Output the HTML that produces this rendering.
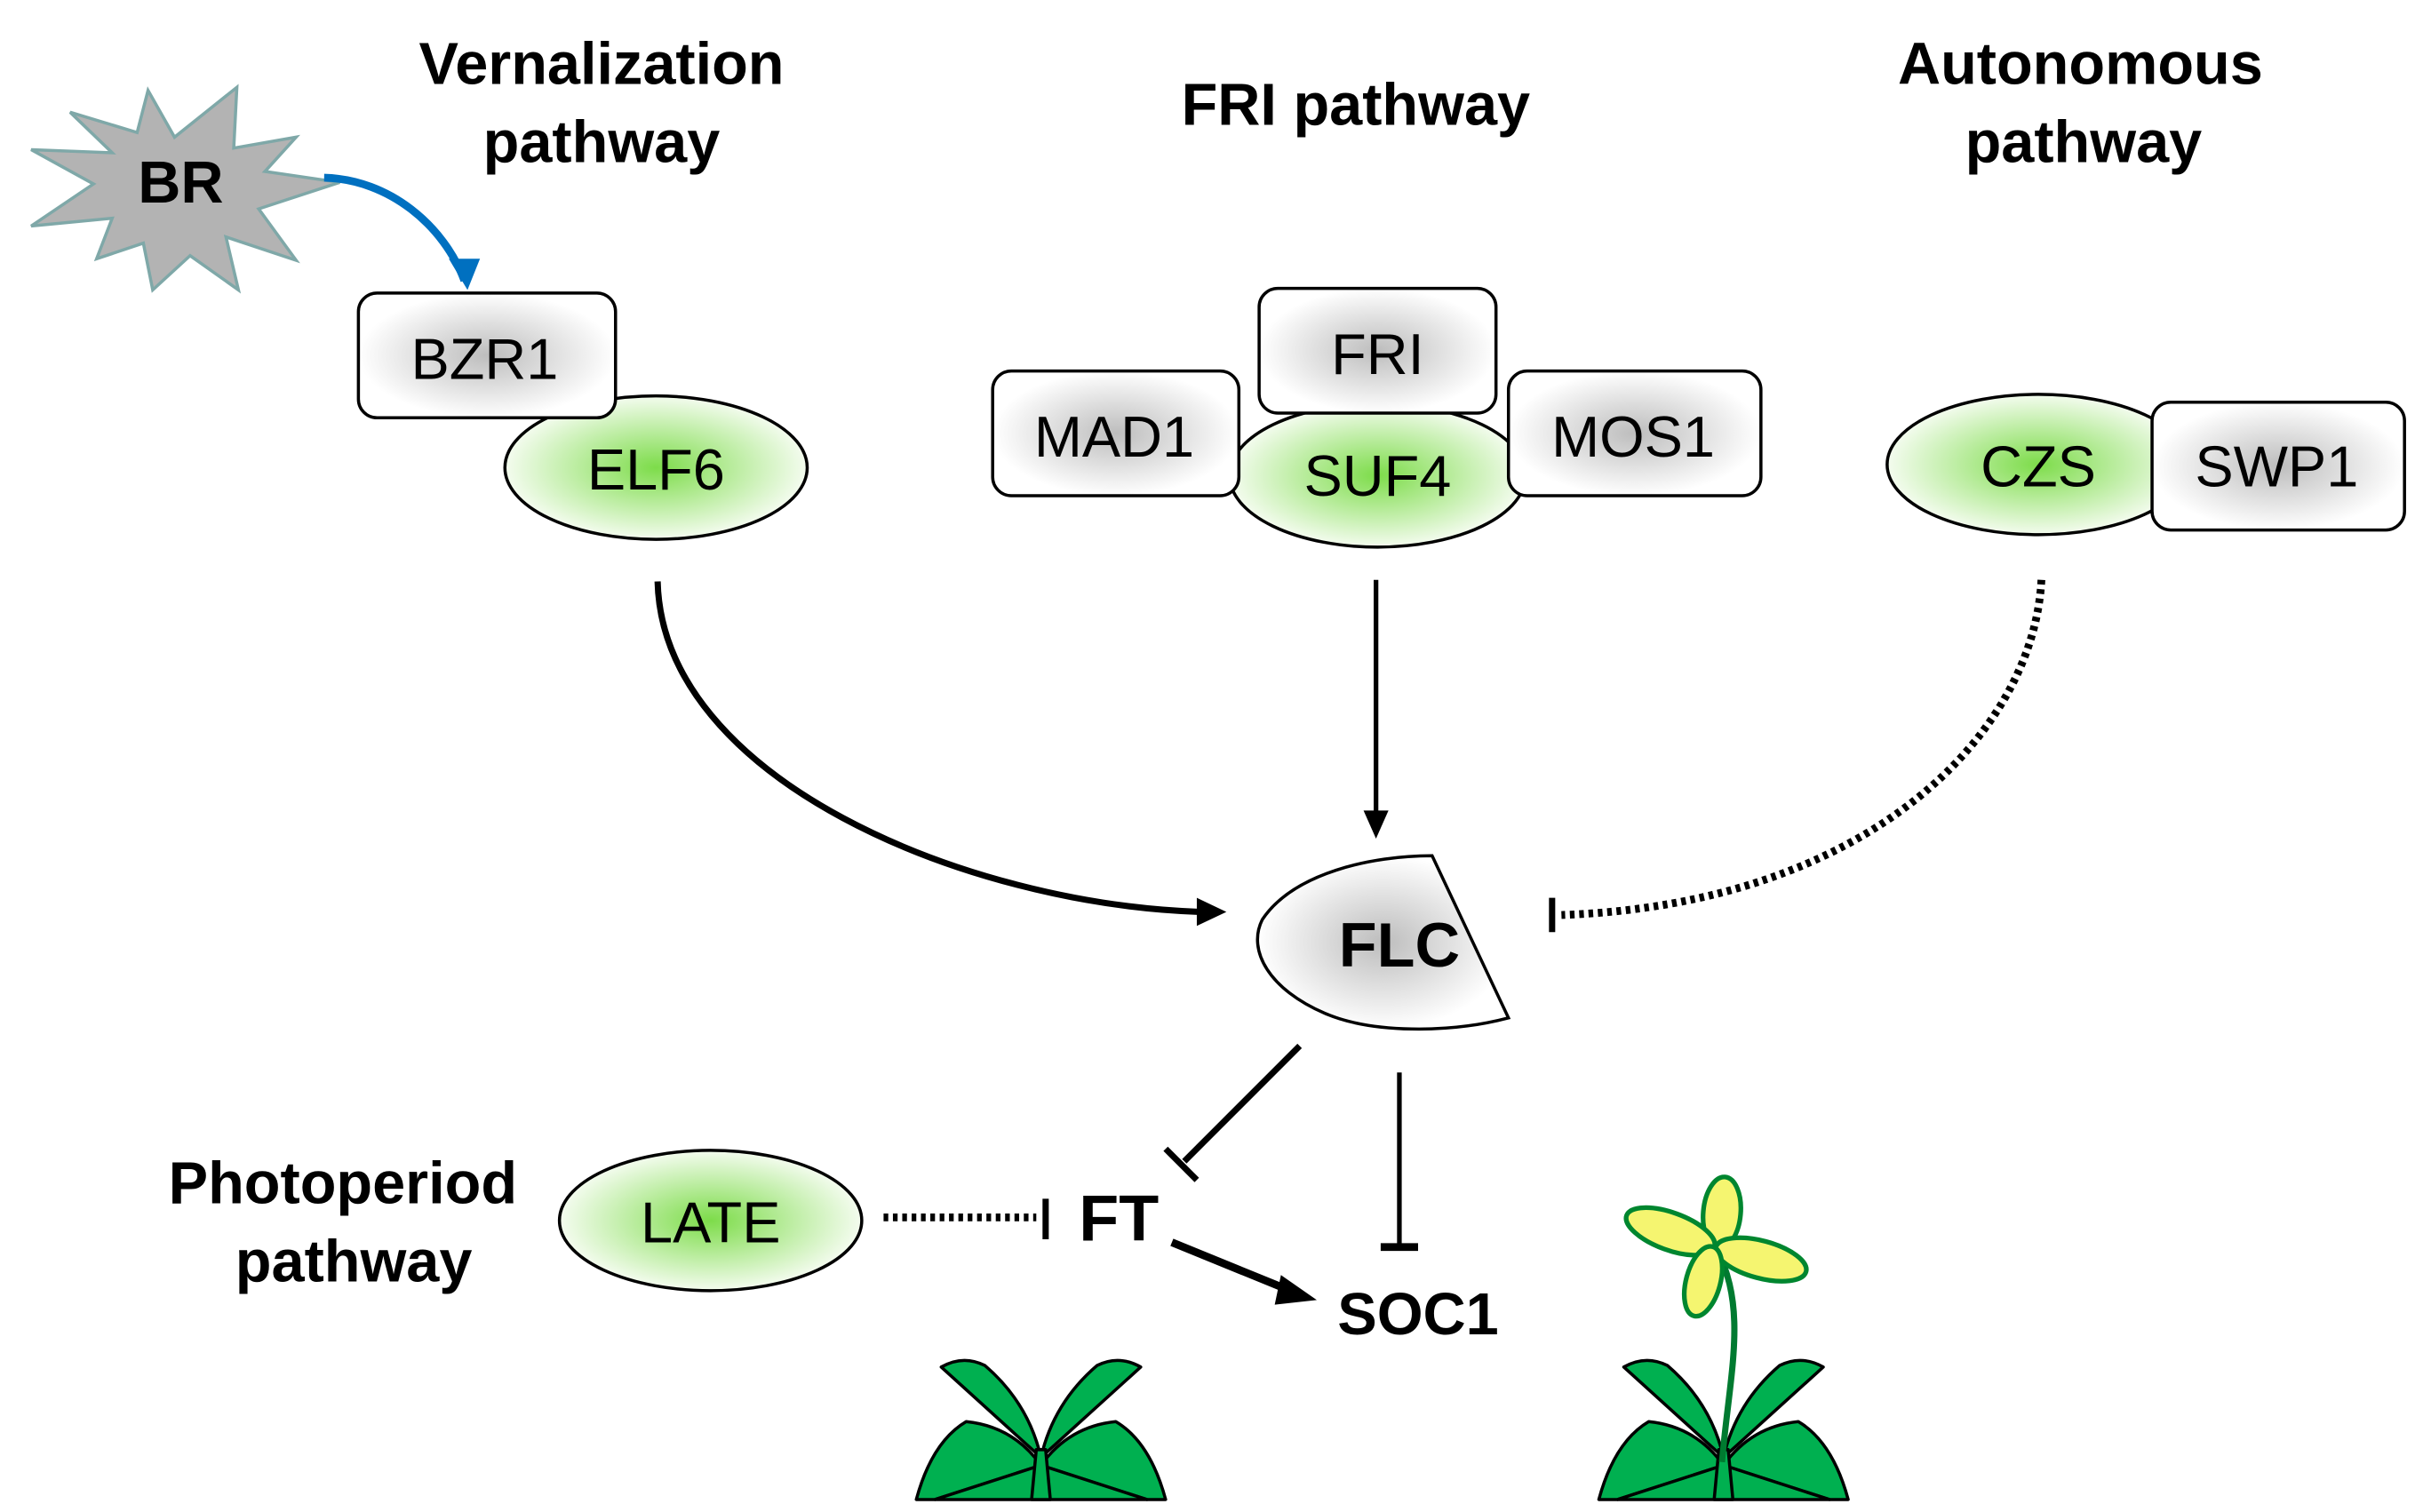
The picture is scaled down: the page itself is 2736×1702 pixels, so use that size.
<!DOCTYPE html>
<html><head><meta charset="utf-8"><style>
html,body{margin:0;padding:0;background:#fff;}
svg{display:block;}
text{font-family:"Liberation Sans",Arial,sans-serif;}
.t{font-weight:bold;font-size:38px;text-anchor:middle;}
.l{font-size:37px;text-anchor:middle;}
.b{font-weight:bold;text-anchor:middle;}
</style></head><body>
<svg width="2736" height="1702" viewBox="0 0 1560 970" preserveAspectRatio="none" xmlns="http://www.w3.org/2000/svg">
<defs>
<radialGradient id="gr"><stop offset="0" stop-color="#bdbdbd"/><stop offset="1" stop-color="#ffffff"/></radialGradient>
<radialGradient id="gn"><stop offset="0" stop-color="#7ddc4a"/><stop offset="1" stop-color="#f4fcef"/></radialGradient>
</defs>
<!-- BR star -->
<polygon points="218,117 166,134 190,167 145,152 153,186 122,164 98,186 92,156 62,166 72,140 20,145 60,118 20,96 72,98 45,72 88,85 95,58 112,88 152,56 150,95 190,88 170,110" fill="#b3b3b3" stroke="#7fa8a8" stroke-width="2"/>
<text x="116" y="130" class="b" font-size="38">BR</text>
<path d="M208,114 C250,115 285,145 298,180" fill="none" stroke="#0070c0" stroke-width="5"/>
<path d="M288,166 L308,166 L300,186 Z" fill="#0070c0"/>
<!-- titles -->
<text x="386" y="54" class="t">Vernalization</text>
<text x="386" y="104" class="t">pathway</text>
<text x="870" y="80" class="t">FRI pathway</text>
<text x="1335" y="54" class="t">Autonomous</text>
<text x="1337" y="104" class="t">pathway</text>
<!-- vernalization -->
<ellipse cx="421" cy="300" rx="97" ry="46" fill="url(#gn)" stroke="#000" stroke-width="2"/>
<text x="421" y="314" class="l">ELF6</text>
<rect x="230" y="188" width="165" height="80" rx="12" fill="url(#gr)" stroke="#000" stroke-width="2"/>
<text x="311" y="243" class="l">BZR1</text>
<!-- FRI -->
<ellipse cx="884" cy="305" rx="95" ry="46" fill="url(#gn)" stroke="#000" stroke-width="2"/>
<text x="884" y="318" class="l">SUF4</text>
<rect x="808" y="185" width="152" height="80" rx="12" fill="url(#gr)" stroke="#000" stroke-width="2"/>
<text x="884" y="240" class="l">FRI</text>
<rect x="637" y="238" width="158" height="80" rx="12" fill="url(#gr)" stroke="#000" stroke-width="2"/>
<text x="715" y="293" class="l">MAD1</text>
<rect x="968" y="238" width="162" height="80" rx="12" fill="url(#gr)" stroke="#000" stroke-width="2"/>
<text x="1048" y="293" class="l">MOS1</text>
<!-- autonomous -->
<ellipse cx="1308" cy="298" rx="97" ry="45" fill="url(#gn)" stroke="#000" stroke-width="2"/>
<text x="1308" y="312" class="l">CZS</text>
<rect x="1381" y="258" width="162" height="82" rx="12" fill="url(#gr)" stroke="#000" stroke-width="2"/>
<text x="1461" y="312" class="l">SWP1</text>
<!-- connectors -->
<path d="M422,373 C425,500 620,580 770,585" fill="none" stroke="#000" stroke-width="4"/>
<path d="M768,576 L787,585 L768,594 Z" fill="#000"/>
<line x1="883" y1="372" x2="883" y2="522" stroke="#000" stroke-width="3"/>
<path d="M875,520 L891,520 L883,538 Z" fill="#000"/>
<path d="M1310,372 C1305,470 1200,580 1002,587" fill="none" stroke="#000" stroke-width="5" stroke-dasharray="3,3"/>
<line x1="996" y1="576" x2="996" y2="598" stroke="#000" stroke-width="4"/>
<!-- FLC -->
<path d="M919,549 L968,653 C930,663 880,663 850,650 C815,635 800,610 810,590 C830,560 880,549 919,549 Z" fill="url(#gr)" stroke="#000" stroke-width="2"/>
<text x="898" y="620" class="b" font-size="40">FLC</text>
<line x1="834" y1="671" x2="760" y2="745" stroke="#000" stroke-width="4"/>
<line x1="748" y1="737" x2="768" y2="757" stroke="#000" stroke-width="4"/>
<line x1="898" y1="688" x2="898" y2="800" stroke="#000" stroke-width="3"/>
<line x1="886" y1="800" x2="910" y2="800" stroke="#000" stroke-width="5"/>
<!-- photoperiod -->
<text x="220" y="772" class="t">Photoperiod</text>
<text x="227" y="822" class="t">pathway</text>
<ellipse cx="456" cy="783" rx="97" ry="45" fill="url(#gn)" stroke="#000" stroke-width="2"/>
<text x="456" y="797" class="l">LATE</text>
<line x1="567" y1="781" x2="665" y2="781" stroke="#000" stroke-width="5" stroke-dasharray="3,3"/>
<line x1="671" y1="769" x2="671" y2="795" stroke="#000" stroke-width="4"/>
<text x="718" y="796" class="b" font-size="42">FT</text>
<line x1="752" y1="797" x2="828" y2="828" stroke="#000" stroke-width="5"/>
<path d="M822,818 L845,834 L818,837 Z" fill="#000"/>
<text x="910" y="856" class="b" font-size="38">SOC1</text>
<!-- plants -->
<g id="plant" fill="#00b050" stroke="#000" stroke-width="2" stroke-linejoin="round">
<path d="M668,940 Q650,915 620,912 Q598,925 588,962 L600,962 Z"/>
<path d="M668,940 Q686,915 716,912 Q738,925 748,962 L736,962 Z"/>
<path d="M668,940 L600,962 L736,962 Z"/>
<path d="M668,935 L604,877 Q618,869 632,876 Q660,900 668,935Z"/>
<path d="M668,935 L732,877 Q718,869 704,876 Q676,900 668,935Z"/>
<path d="M665,930 L662,962 L674,962 L671,930 Z"/>
</g>
<use href="#plant" transform="translate(438,0)"/>
<path d="M1105,938 C1110,880 1122,840 1101,800" fill="none" stroke="#007a30" stroke-width="4"/>
<g fill="#f5f570" stroke="#00862f" stroke-width="3">
<ellipse cx="1105" cy="778" rx="12" ry="23" transform="rotate(5 1105 778)"/>
<ellipse cx="1072" cy="790" rx="30" ry="12" transform="rotate(20 1072 790)"/>
<ellipse cx="1130" cy="808" rx="30" ry="12" transform="rotate(15 1130 808)"/>
<ellipse cx="1093" cy="822" rx="11" ry="23" transform="rotate(15 1093 822)"/>
</g>
</svg>
</body></html>
